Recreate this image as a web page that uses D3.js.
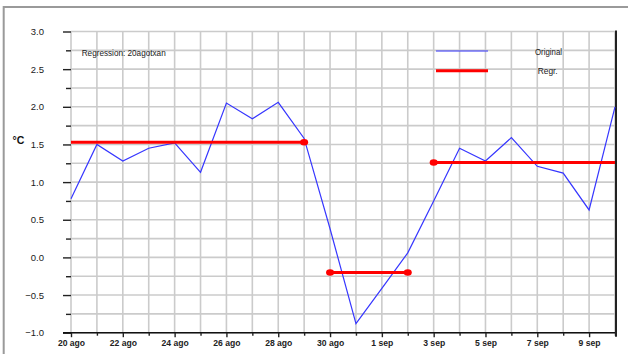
<!DOCTYPE html>
<html>
<head>
<meta charset="utf-8">
<script src="https://cdn.jsdelivr.net/npm/d3@7"></script>
<style>
  html, body { margin: 0; padding: 0; background: #fff; }
  svg { display: block; }
  text { font-family: "Liberation Sans", Arial, sans-serif; }
</style>
</head>
<body>
<svg id="chart" width="628" height="354"></svg>
<script>
// Daily temperature anomaly (°C), 20 Aug – 10 Sep
const days = ["20 ago","21 ago","22 ago","23 ago","24 ago","25 ago","26 ago","27 ago","28 ago","29 ago",
              "30 ago","31 ago","1 sep","2 sep","3 sep","4 sep","5 sep","6 sep","7 sep","8 sep","9 sep","10 sep"];
const original = [0.78, 1.50, 1.28, 1.45, 1.52, 1.13, 2.05, 1.84, 2.06, 1.58,
                  0.38, -0.88, -0.41, 0.06, 0.75, 1.45, 1.28, 1.59, 1.21, 1.12, 0.63, 2.00];
// Piecewise-constant regression: first day index, last day index, level
const regStart = [0, 10, 14];
const regEnd   = [9, 13, 21];
const regLevel = [1.53, -0.20, 1.26];
const regDotStart = [false, true, true];
const regDotEnd   = [true, true, false];
// Axis labels
const yTicks = [-1.0, -0.75, -0.5, -0.25, 0, 0.25, 0.5, 0.75, 1.0, 1.25, 1.5, 1.75, 2.0, 2.25, 2.5, 2.75, 3.0];
const xLabelEvery = 2;
const titleText = "Regression: 20agotxan";
const legendNames = ["Original", "Regr."];
const unitLabel = "°C";

const svg = d3.select("#chart");
const L = 71, R = 615, T = 31.5, B = 332.7;
const x = d3.scaleLinear().domain([0, days.length - 1]).range([L, R]);
const y = d3.scaleLinear().domain([-1, 3]).range([B, T]);

const BLUE = "#3636ff", RED = "#ff0000";

// Outer frame (extends past the right/bottom edges)
svg.append("path")
  .attr("d", "M3.7,360 L3.7,7 L640,7")
  .attr("fill", "none").attr("stroke", "#9a9a9a").attr("stroke-width", 2);

// Grid
const grid = svg.append("g").attr("stroke", "#cbcbcb").attr("stroke-width", 1.6);
grid.selectAll("line.h").data(yTicks).join("line")
  .attr("x1", L).attr("x2", R).attr("y1", d => y(d)).attr("y2", d => y(d));
grid.selectAll("line.v").data(d3.range(days.length)).join("line")
  .attr("x1", d => x(d)).attr("x2", d => x(d)).attr("y1", T).attr("y2", B);

// Y axis: ticks only, with labels on the half-degree marks
const isHalf = d => Math.abs(d * 2 - Math.round(d * 2)) < 1e-9;
const yAxis = svg.append("g").attr("transform", `translate(${L},0)`)
  .call(d3.axisLeft(y).tickValues(yTicks).tickSizeOuter(0).tickPadding(21)
        .tickFormat(d => isHalf(d) ? d3.format(".1f")(d) : ""));
yAxis.select(".domain").remove();
yAxis.selectAll(".tick line")
  .attr("x2", d => isHalf(d) ? -8 : -5)
  .attr("stroke", "#222").attr("stroke-width", 1.4);
yAxis.selectAll(".tick text").attr("font-size", 9.5).attr("fill", "#1a1a1a")
  .attr("font-family", "Liberation Sans, Arial, sans-serif");

// X axis
const xAxis = svg.append("g").attr("transform", `translate(0,${B})`)
  .call(d3.axisBottom(x).tickValues(d3.range(days.length)).tickSizeOuter(0)
        .tickFormat(i => (i % xLabelEvery === 0 && i < days.length - 1) ? days[i] : ""));
xAxis.select(".domain").attr("d", `M63,0H${R + 2}`).attr("stroke", "#111").attr("stroke-width", 1.6);
xAxis.selectAll(".tick line")
  .attr("y2", i => i % xLabelEvery === 0 ? 4.5 : 3)
  .attr("stroke", "#222").attr("stroke-width", 1.4);
xAxis.selectAll(".tick text").attr("font-size", 8.6).attr("font-weight", "bold").attr("fill", "#222")
  .attr("y", 7.5).attr("font-family", "Liberation Sans, Arial, sans-serif");

// Right border of the plot
svg.append("line").attr("x1", R + 1).attr("x2", R + 1).attr("y1", T - 1).attr("y2", B + 4)
  .attr("stroke", "#222").attr("stroke-width", 2);

// Original series
svg.append("path").datum(original)
  .attr("fill", "none").attr("stroke", BLUE).attr("stroke-width", 1.2)
  .attr("d", d3.line().x((d, i) => x(i)).y(d => y(d)));

// Regression segments
const regG = svg.append("g");
regLevel.forEach((v, k) => {
  regG.append("line")
    .attr("x1", x(regStart[k])).attr("x2", x(regEnd[k]))
    .attr("y1", y(v)).attr("y2", y(v))
    .attr("stroke", RED).attr("stroke-width", 3);
  if (regDotStart[k]) regG.append("ellipse").attr("cx", x(regStart[k])).attr("cy", y(v))
    .attr("rx", 4).attr("ry", 3.3).attr("fill", RED);
  if (regDotEnd[k]) regG.append("ellipse").attr("cx", x(regEnd[k])).attr("cy", y(v))
    .attr("rx", 4).attr("ry", 3.3).attr("fill", RED);
});

// Title inside the plot
svg.append("text").attr("x", 81.7).attr("y", 55.5).attr("font-size", 9).attr("fill", "#1a1a1a")
  .attr("textLength", 84).attr("lengthAdjust", "spacingAndGlyphs").text(titleText);

// Legend
const legColors = [BLUE, RED], legWidths = [1.2, 3];
legendNames.forEach((n, k) => {
  const ly = 51 + k * 19.7;
  svg.append("line").attr("x1", 436).attr("x2", 488).attr("y1", ly).attr("y2", ly)
    .attr("stroke", legColors[k]).attr("stroke-width", legWidths[k]);
  svg.append("text").attr("x", k === 0 ? 535 : 537.7).attr("y", ly + 3.5).attr("font-size", 9)
    .attr("fill", "#1a1a1a").attr("textLength", k === 0 ? 27 : 20)
    .attr("lengthAdjust", "spacingAndGlyphs").text(n);
});

// Unit label
svg.append("text").attr("x", 12.5).attr("y", 144).attr("font-size", 10.5).attr("font-weight", "bold")
  .attr("fill", "#111").text(unitLabel);
</script>
</body>
</html>
